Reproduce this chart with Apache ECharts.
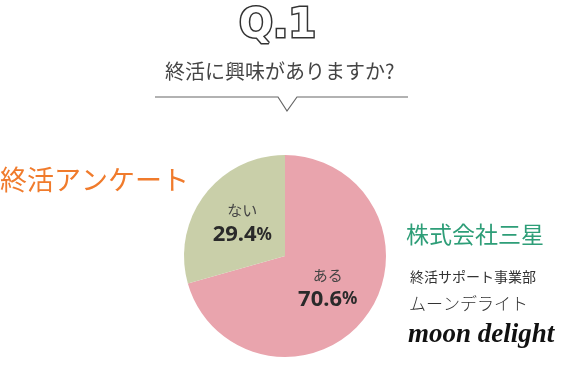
<!DOCTYPE html>
<html><head><meta charset="utf-8">
<script src="https://cdn.jsdelivr.net/npm/echarts@6/dist/echarts.min.js"></script>
<style>html,body{margin:0;padding:0;background:#fff}#c{width:570px;height:380px}</style>
</head><body><div id="c"></div>
<script>
const categories = ['ある', 'ない'];
const values = [70.6, 29.4];
const colors = ['#E9A4AD', '#C9CFA9'];

const chart = echarts.init(document.getElementById('c'));
chart.setOption({
  backgroundColor: '#ffffff',
  animation: false,
  graphic: [
    { type: 'text', x: 239, y: 7, style: { text: 'Q.1', font: 'bold 40px "DejaVu Sans"', fill: '#ffffff', stroke: '#333333', lineWidth: 3 } },
    { type: 'text', x: 165, y: 61, style: { text: '終活に興味がありますか?', font: '20px "Noto Sans CJK JP"', fill: '#444444' } },
    { type: 'polyline', shape: { points: [[155, 97], [278, 97], [287, 111], [297, 97], [408, 97]] }, style: { stroke: '#666666', lineWidth: 1.2, fill: null } },
    { type: 'text', x: 0, y: 166, style: { text: '終活アンケート', font: '27px "Noto Sans CJK JP"', fill: '#F07B2C' } },
    { type: 'text', x: 406, y: 223, style: { text: '株式会社三星', font: '23px "Noto Sans CJK JP"', fill: '#2E9E78' } },
    { type: 'text', x: 410, y: 270, style: { text: '終活サポート事業部', font: '14px "Noto Sans CJK JP"', fill: '#333333' } },
    { type: 'text', x: 409, y: 295, style: { text: 'ムーンデライト', font: '300 17px "Noto Sans CJK JP"', fill: '#333333' } },
    { type: 'text', x: 408, y: 322, style: { text: 'moon delight', font: 'italic bold 27px "Liberation Serif"', fill: '#111111' } }
  ],
  series: [{
    type: 'pie',
    center: [285, 256],
    radius: [0, 101],
    startAngle: 90,
    clockwise: true,
    data: categories.map((n, i) => ({ name: n, value: values[i], itemStyle: { color: colors[i] } })),
    itemStyle: { borderWidth: 0 },
    label: {
      position: 'inside',
      formatter: p => '{n|' + p.name + '}\n{v|' + p.value.toFixed(1) + '}{p|%}',
      rich: {
        n: { fontSize: 15, color: '#444', fontFamily: 'Noto Sans CJK JP', lineHeight: 22 },
        v: { fontSize: 22, fontWeight: 'bold', color: '#2a2a2a', fontFamily: 'Noto Sans', lineHeight: 26 },
        p: { fontSize: 17, fontWeight: 'bold', color: '#2a2a2a', fontFamily: 'Noto Sans', lineHeight: 26 }
      }
    },
    labelLine: { show: false },
    emphasis: { disabled: true }
  }]
});
</script></body></html>
